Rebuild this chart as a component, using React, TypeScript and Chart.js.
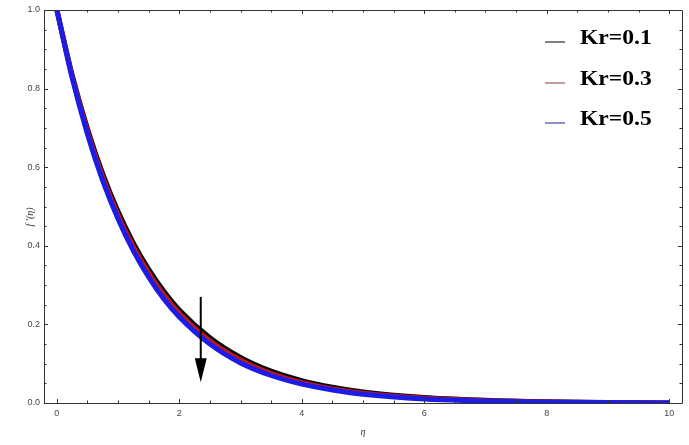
import React, { useEffect, useRef } from "react";
import { Chart, registerables } from "chart.js";

Chart.register(...registerables);

const etaValues = [0, 0.25, 0.5, 0.75, 1, 1.25, 1.5, 1.75, 2, 2.5, 3, 3.5, 4, 4.5, 5, 6, 7, 8, 9, 10];
const kr01 = [1.0, 0.835, 0.698, 0.583, 0.487, 0.407, 0.34, 0.284, 0.237, 0.166, 0.116, 0.081, 0.057, 0.04, 0.028, 0.014, 0.007, 0.003, 0.001, 0.0];
const kr03 = [1.0, 0.831, 0.691, 0.574, 0.477, 0.397, 0.33, 0.274, 0.228, 0.158, 0.109, 0.075, 0.052, 0.036, 0.025, 0.012, 0.006, 0.0025, 0.001, 0.0];
const kr05 = [1.0, 0.827, 0.684, 0.565, 0.468, 0.387, 0.32, 0.264, 0.219, 0.15, 0.102, 0.07, 0.048, 0.033, 0.022, 0.01, 0.005, 0.002, 0.001, 0.0];
const seriesLabels = ["Kr=0.1", "Kr=0.3", "Kr=0.5"];
const lineColors = ["#0a0a0a", "#c41818", "#1c1ce6"];
const legendColors = ["#555555", "#b07878", "#6a6ab8"];
const xTicks = [0, 2, 4, 6, 8, 10];
const yTicks = [0, 0.2, 0.4, 0.6, 0.8, 1.0];
const arrowEta = 2.35;
const arrowFrom = 0.27;
const arrowTo = 0.053;

const framePlugin = {
  id: "frame",
  afterDraw(chart: any) {
    const ctx = chart.ctx;
    const { left, right, top, bottom } = chart.chartArea;
    const xs = chart.scales.x;
    const ys = chart.scales.y;
    ctx.save();
    ctx.strokeStyle = "#333";
    ctx.lineWidth = 1;
    ctx.beginPath();
    ctx.moveTo(left + 0.5, top + 0.5);
    ctx.lineTo(right + 0.5, top + 0.5);
    ctx.lineTo(right + 0.5, bottom + 0.5);
    ctx.lineTo(left + 0.5, bottom + 0.5);
    ctx.closePath();
    ctx.stroke();
    ctx.beginPath();
    for (let i = 0; i <= 20; i++) {
      const v = i * 0.5;
      const px = Math.round(xs.getPixelForValue(v)) + 0.5;
      const len = i % 4 === 0 ? 4 : 2.5;
      ctx.moveTo(px, bottom);
      ctx.lineTo(px, bottom - len);
      ctx.moveTo(px, top);
      ctx.lineTo(px, top + len);
    }
    for (let i = 0; i <= 20; i++) {
      const v = i * 0.05;
      const py = Math.round(ys.getPixelForValue(v)) + 0.5;
      const len = i % 4 === 0 ? 4 : 2.5;
      ctx.moveTo(left, py);
      ctx.lineTo(left + len, py);
      ctx.moveTo(right, py);
      ctx.lineTo(right - len, py);
    }
    ctx.stroke();

    // arrow
    const ax = xs.getPixelForValue(arrowEta);
    const ay1 = ys.getPixelForValue(arrowFrom);
    const ay2 = ys.getPixelForValue(arrowTo);
    ctx.strokeStyle = "#000";
    ctx.fillStyle = "#000";
    ctx.lineWidth = 2;
    ctx.beginPath();
    ctx.moveTo(ax, ay1);
    ctx.lineTo(ax, ay2 - 20);
    ctx.stroke();
    ctx.beginPath();
    ctx.moveTo(ax - 6, ay2 - 24);
    ctx.lineTo(ax + 6, ay2 - 24);
    ctx.lineTo(ax, ay2);
    ctx.closePath();
    ctx.fill();

    // legend
    const rows = [39, 80, 120];
    seriesLabels.forEach((lab, i) => {
      ctx.strokeStyle = legendColors[i];
      ctx.lineWidth = 1.5;
      ctx.beginPath();
      ctx.moveTo(545, rows[i] + 3);
      ctx.lineTo(565, rows[i] + 3);
      ctx.stroke();
      ctx.save();
      ctx.translate(580, rows[i]);
      ctx.scale(1.18, 1);
      ctx.fillStyle = "#000";
      ctx.font = "bold 20px 'Liberation Serif'";
      ctx.textBaseline = "middle";
      ctx.textAlign = "left";
      ctx.fillText(lab, 0, 0);
      ctx.restore();
    });

    // axis titles
    ctx.fillStyle = "#333";
    ctx.font = "italic 10px 'Liberation Serif'";
    ctx.textAlign = "center";
    ctx.textBaseline = "middle";
    ctx.fillText("η", (left + right) / 2, 432);
    ctx.save();
    ctx.translate(30, 217);
    ctx.rotate(-Math.PI / 2);
    ctx.fillText("f ′(η)", 0, 0);
    ctx.restore();
    ctx.restore();
  },
};

export default function App() {
  const ref = useRef<HTMLCanvasElement>(null);
  useEffect(() => {
    if (!ref.current) return;
    const mk = (vals: number[], i: number) => ({
      label: seriesLabels[i],
      data: etaValues.map((e, k) => ({ x: e, y: vals[k] })),
      borderColor: lineColors[i],
      backgroundColor: lineColors[i],
      borderWidth: 5,
      pointRadius: 0,
      cubicInterpolationMode: "monotone" as const,
      fill: false,
      order: 2 - i,
    });
    const chart = new Chart(ref.current, {
      type: "line",
      data: { datasets: [mk(kr01, 0), mk(kr03, 1), mk(kr05, 2)] },
      options: {
        animation: false,
        responsive: false,
        layout: { padding: { top: 10, right: 7, left: 0, bottom: 0 } },
        plugins: { legend: { display: false }, tooltip: { enabled: false } },
        scales: {
          x: {
            type: "linear",
            min: -0.21,
            max: 10.21,
            grid: { display: false, drawTicks: false },
            border: { display: false },
            afterBuildTicks: (s: any) => {
              s.ticks = xTicks.map((v) => ({ value: v }));
            },
            afterFit: (s: any) => {
              s.height = 42;
            },
            ticks: {
              padding: 5,
              color: "#444",
              font: { family: "'Liberation Sans'", size: 9 },
              callback: (v: any) => String(v),
              maxRotation: 0,
            },
          },
          y: {
            type: "linear",
            min: 0,
            max: 1,
            grid: { display: false, drawTicks: false },
            border: { display: false },
            afterBuildTicks: (s: any) => {
              s.ticks = yTicks.map((v) => ({ value: v }));
            },
            afterFit: (s: any) => {
              s.width = 44;
            },
            ticks: {
              padding: 4,
              color: "#444",
              font: { family: "'Liberation Sans'", size: 9 },
              callback: (v: any) => Number(v).toFixed(1),
            },
          },
        },
      },
      plugins: [framePlugin],
    });
    return () => chart.destroy();
  }, []);
  return (
    <div style={{ position: "fixed", left: 0, top: 0, width: 689, height: 445, background: "#fff" }}>
      <canvas ref={ref} width={689} height={445} />
    </div>
  );
}
